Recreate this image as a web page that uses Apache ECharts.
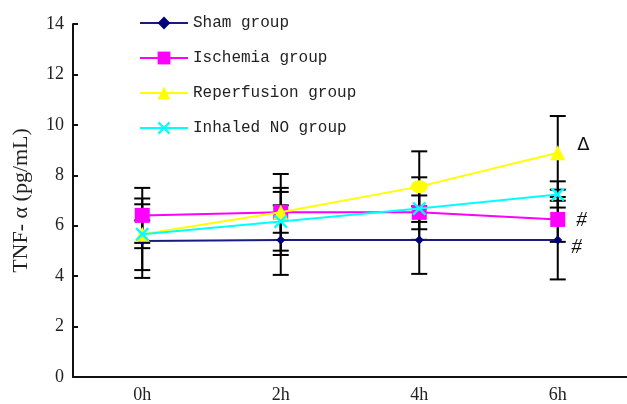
<!DOCTYPE html>
<html><head><meta charset="utf-8">
<script src="https://cdn.jsdelivr.net/npm/echarts@6/dist/echarts.min.js"></script>
<style>html,body{margin:0;padding:0;background:#fff}#c{width:627px;height:404px}</style>
</head><body><div id="c"></div>
<script>
var categories = ['0h', '2h', '4h', '6h'];
var shamMean = [5.39, 5.43, 5.43, 5.43];
var shamSD = [1.46, 1.38, 1.34, 1.56];
var ischMean = [6.41, 6.53, 6.53, 6.25];
var ischSD = [1.09, 1.52, 0.67, 0.89];
var repMean = [5.66, 6.53, 7.55, 8.89];
var repSD = [1.42, 0.81, 1.40, 1.46];
var noMean = [5.66, 6.17, 6.68, 7.24];
var noSD = [0.55, 1.33, 1.24, 0.52];
var yTicks = [0, 2, 4, 6, 8, 10, 12, 14];
var names = ['Sham group', 'Ischemia group', 'Reperfusion group', 'Inhaled NO group'];

var chart = echarts.init(document.getElementById('c'));
var serif = '"Liberation Serif","DejaVu Serif",serif';
var mono = '"Liberation Mono","DejaVu Sans Mono",monospace';
var xPath = 'path://M0,1.2L1.2,0L5,3.8L8.8,0L10,1.2L6.2,5L10,8.8L8.8,10L5,6.2L1.2,10L0,8.8L3.8,5Z';

function errData(mean, sd) {
  return mean.map(function (m, i) { return [i, m - sd[i], m + sd[i]]; });
}
function errSeries(mean, sd) {
  return {
    type: 'custom', z: 1, silent: true,
    renderItem: function (params, api) {
      var x = api.value(0);
      var lo = api.coord([x, api.value(1)]);
      var hi = api.coord([x, api.value(2)]);
      var w = 8;
      var st = { stroke: '#000', lineWidth: 2 };
      return { type: 'group', children: [
        { type: 'line', shape: { x1: lo[0], y1: lo[1], x2: hi[0], y2: hi[1] }, style: st },
        { type: 'line', shape: { x1: lo[0] - w, y1: lo[1], x2: lo[0] + w, y2: lo[1] }, style: st },
        { type: 'line', shape: { x1: hi[0] - w, y1: hi[1], x2: hi[0] + w, y2: hi[1] }, style: st }
      ]};
    },
    encode: { x: 0, y: [1, 2] },
    data: errData(mean, sd)
  };
}

var repData = repMean.map(function (v, i) {
  if (i === 2) return { value: v, symbol: 'circle', symbolSize: [17, 13] };
  return v;
});

var option = {
  animation: false,
  grid: { left: 73, top: 24, width: 556, bottom: 24 },
  legend: {
    orient: 'vertical', left: 134, top: 10, itemWidth: 48, itemHeight: 16, itemGap: 19,
    textStyle: { fontFamily: mono, fontSize: 16, color: '#222' },
    data: names
  },
  xAxis: {
    type: 'category', data: categories, boundaryGap: true,
    axisLine: { lineStyle: { color: '#111', width: 2 } },
    axisTick: { inside: true, length: 5, lineStyle: { color: '#111', width: 2 } },
    axisLabel: { fontFamily: serif, fontSize: 18, color: '#222', margin: 9 }
  },
  yAxis: {
    type: 'value', min: 0, max: 14, interval: 2,
    name: 'TNF- α (pg/mL)', nameLocation: 'middle', nameGap: 41, nameRotate: 90,
    nameTextStyle: { fontFamily: serif, fontSize: 22, color: '#222' },
    axisLine: { show: true, lineStyle: { color: '#111', width: 2 } },
    axisTick: { show: true, inside: true, length: 5, lineStyle: { color: '#111', width: 2 } },
    axisLabel: { fontFamily: serif, fontSize: 18, color: '#222', margin: 9,
      formatter: function (v) { return yTicks.indexOf(v) >= 0 ? String(v) : ''; } },
    splitLine: { show: false }
  },
  series: [
    errSeries(shamMean, shamSD), errSeries(ischMean, ischSD),
    errSeries(repMean, repSD), errSeries(noMean, noSD),
    { name: names[0], type: 'line', z: 5, data: shamMean, symbol: 'diamond', symbolSize: 9,
      lineStyle: { color: '#1a1a80', width: 2 }, itemStyle: { color: '#00007a' },
      label: { show: true, formatter: function (p) { return p.dataIndex === 3 ? '#' : ''; },
        position: 'right', distance: 9, offset: [0, 7], fontFamily: serif, fontSize: 21, fontStyle: 'italic', color: '#111' } },
    { name: names[1], type: 'line', z: 6, data: ischMean, symbol: 'rect', symbolSize: 15,
      lineStyle: { color: '#ff00ff', width: 2 }, itemStyle: { color: '#ff00ff' },
      label: { show: true, formatter: function (p) { return p.dataIndex === 3 ? '#' : ''; },
        position: 'right', distance: 11, offset: [0, 1], fontFamily: serif, fontSize: 21, fontStyle: 'italic', color: '#111' } },
    { name: names[2], type: 'line', z: 7, data: repData, symbol: 'triangle', symbolSize: 15,
      lineStyle: { color: '#ffff00', width: 2 }, itemStyle: { color: '#ffff00' },
      label: { show: true, formatter: function (p) { return p.dataIndex === 3 ? 'Δ' : ''; },
        position: 'right', distance: 12, offset: [0, -8], fontFamily: '"DejaVu Sans",sans-serif', fontSize: 18, color: '#111' } },
    { name: names[3], type: 'line', z: 8, data: noMean, symbol: xPath, symbolSize: 14,
      lineStyle: { color: '#00ffff', width: 2 }, itemStyle: { color: '#00ffff' } }
  ]
};
chart.setOption(option);
</script>
</body></html>
